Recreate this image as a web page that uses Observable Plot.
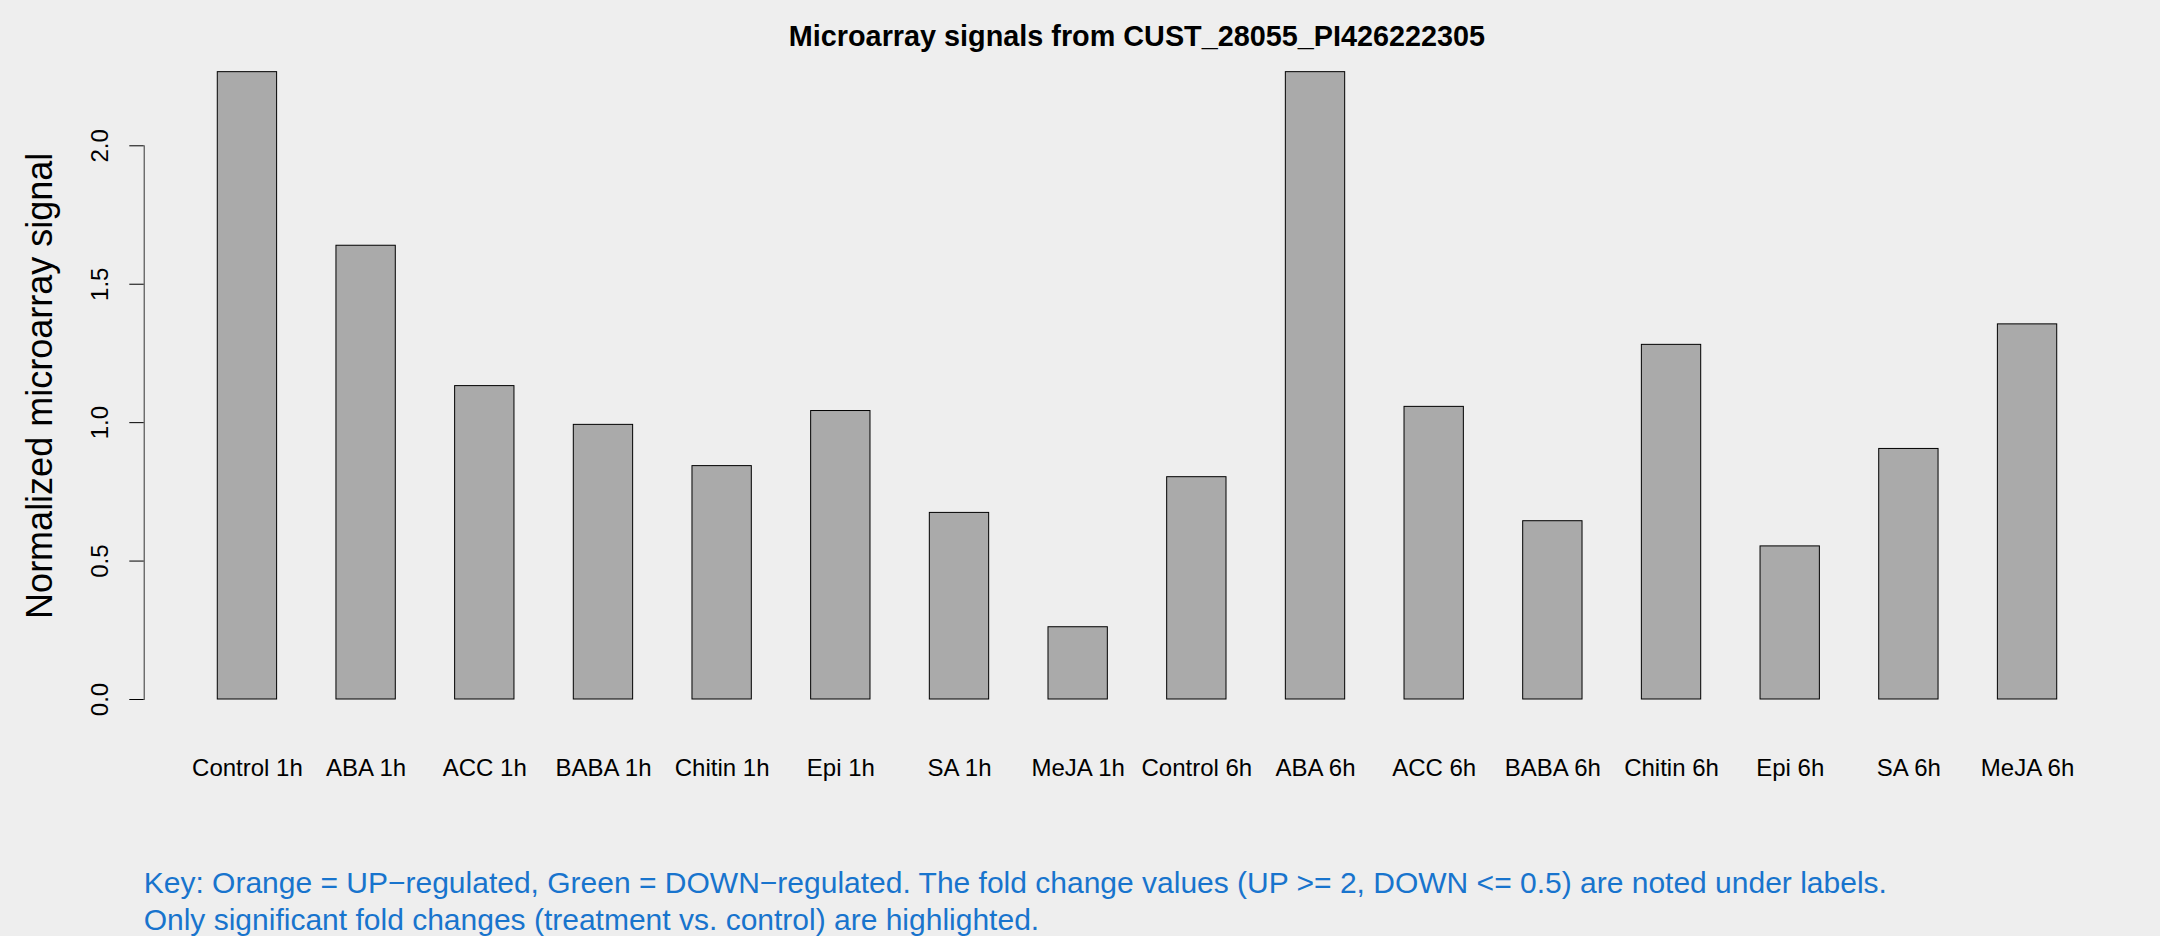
<!DOCTYPE html>
<html>
<head>
<meta charset="utf-8">
<script src="https://cdn.jsdelivr.net/npm/d3@7"></script>
<script src="https://cdn.jsdelivr.net/npm/@observablehq/plot@0.6"></script>
<style>
  html, body { margin: 0; padding: 0; background: #eeeeee; }
  #page { position: relative; width: 2160px; height: 936px; overflow: hidden; background: #eeeeee;
          font-family: "Liberation Sans", Arial, Helvetica, sans-serif; }
  #title { position: absolute; top: 0; left: 143.7px; width: 1986.6px; height: 60px; box-sizing: border-box;
           padding-top: 21.6px; line-height: 28.8px; font-size: 28.8px; font-weight: bold; text-align: center; color: #000; white-space: nowrap; }
  #chart { position: absolute; top: 60px; left: 0; }
  #caption { position: absolute; top: 865.3px; left: 143.7px; font-size: 30px; line-height: 36.7px; color: #1874cd; white-space: nowrap; }
</style>
</head>
<body>
<div id="page">
  <div id="title"></div>
  <div id="chart"></div>
  <div id="caption"></div>
</div>
<script>
const titleText = "Microarray signals from CUST_28055_PI426222305";
const yLabelText = "Normalized microarray signal";
const captionLines = [
  "Key: Orange = UP\u2212regulated, Green = DOWN\u2212regulated. The fold change values (UP >= 2, DOWN <= 0.5) are noted under labels.",
  "Only significant fold changes (treatment vs. control) are highlighted."
];
const categories = ["Control 1h", "ABA 1h", "ACC 1h", "BABA 1h", "Chitin 1h", "Epi 1h", "SA 1h", "MeJA 1h",
                    "Control 6h", "ABA 6h", "ACC 6h", "BABA 6h", "Chitin 6h", "Epi 6h", "SA 6h", "MeJA 6h"];
const signals = [2.266, 1.639, 1.132, 0.992, 0.843, 1.042, 0.674, 0.261,
                 0.803, 2.266, 1.057, 0.644, 1.281, 0.553, 0.905, 1.355];
const yTicks = [0, 0.5, 1, 1.5, 2];
const yTickLabels = ["0.0", "0.5", "1.0", "1.5", "2.0"];

const table = categories.map((c, i) => ({label: c, value: signals[i]}));
const yMax = d3.max(signals);

document.getElementById("title").textContent = titleText;
const cap = document.getElementById("caption");
captionLines.forEach((t) => {
  const d = document.createElement("div");
  d.textContent = t;
  cap.appendChild(d);
});

const chart = Plot.plot({
  width: 2160,
  height: 790,
  marginLeft: 143.7,
  marginRight: 29.7,
  marginTop: 85.3,
  marginBottom: 151,
  style: {background: "transparent", fontFamily: "'Liberation Sans', Arial, Helvetica, sans-serif", color: "#000", overflow: "visible"},
  x: {domain: categories, paddingInner: 0.5, paddingOuter: 0.62, align: 0.5, round: false, axis: null, label: null},
  y: {domain: [0, 2], axis: null, label: null},
  marks: [
    Plot.barY(table, {x: "label", y: "value", fill: "#aaaaaa", stroke: "#000", strokeWidth: 1}),
    Plot.frame({anchor: "left", stroke: "#333", strokeWidth: 1}),
    Plot.axisY(yTicks, {anchor: "left", tickSize: 14.4, tickRotate: -90, tickPadding: 21.6,
                        tickFormat: d => yTickLabels[yTicks.indexOf(d)], fontSize: 24, label: null}),
    Plot.axisX({anchor: "bottom", tickSize: 0, tickPadding: 59, fontSize: 24, label: null}),
    Plot.text([yLabelText], {text: d => d, y: () => yMax / 2, frameAnchor: "left", rotate: -90,
                             dx: -92, lineAnchor: "bottom", textAnchor: "middle", fontSize: 36, fill: "#000"})
  ]
});
document.getElementById("chart").appendChild(chart);
</script>
</body>
</html>
